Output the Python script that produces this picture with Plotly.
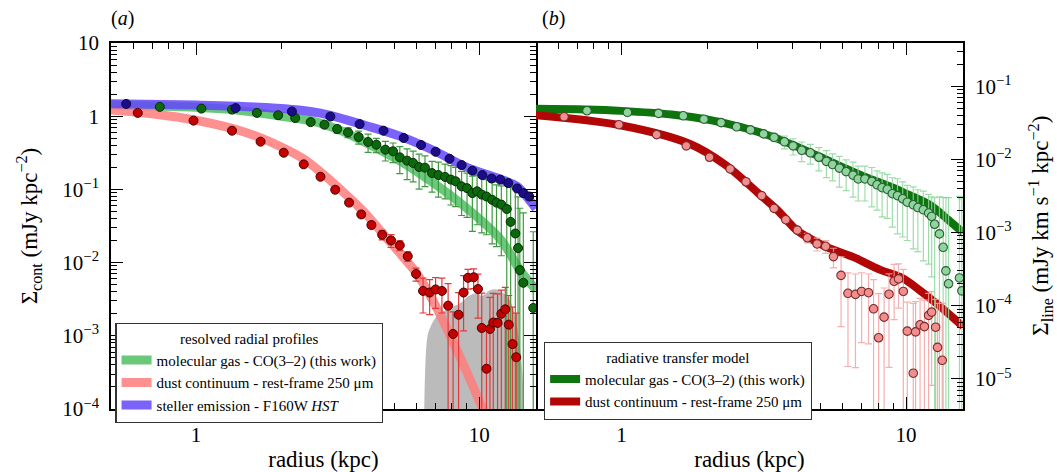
import plotly.graph_objects as go

SERIF = "Liberation Serif"

# ---------------- panel (a): resolved radial profiles ----------------
co_r = [0.745, 1.045, 1.34, 1.64, 1.95, 2.24, 2.54, 2.84, 3.15, 3.44, 3.75, 4.05, 4.33, 4.66, 4.96, 5.24,
        5.56, 5.84, 6.13, 6.43, 6.81, 7.17, 7.57, 7.94, 8.25, 8.66, 9.05, 9.45, 9.82, 10.2, 10.6, 11.1,
        11.5, 11.96, 12.5, 12.9, 13.4, 13.7, 13.9, 14.3, 15.5]
co_v = [1.34, 1.27, 1.23, 1.11, 1.03, 0.944, 0.83, 0.766, 0.668, 0.601, 0.52, 0.445, 0.408, 0.349, 0.331,
        0.274, 0.247, 0.23, 0.202, 0.198, 0.167, 0.157, 0.148, 0.136, 0.129, 0.11, 0.104, 0.089, 0.094,
        0.085, 0.080, 0.072, 0.066, 0.062, 0.054, 0.036, 0.025, 0.0158, 0.0079, 0.0053, 0.0024]
co_relerr = [0.03, 0.03, 0.03, 0.04, 0.05, 0.06, 0.08, 0.1, 0.12, 0.15, 0.2, 0.28, 0.22, 0.3, 0.3, 0.4,
             0.45, 0.45, 0.5, 0.45, 0.45, 0.5, 0.5, 0.55, 0.55, 0.6, 0.6, 0.7, 0.65, 0.7, 0.7, 0.75,
             0.75, 0.8, 1.4, 2.0, 3.0, 4.0, 6.0, 8.0, 10.0]

dust_r = [0.623, 0.98, 1.34, 1.69, 2.04, 2.4, 2.75, 3.1, 3.47, 3.83, 4.16, 4.54, 4.88, 5.24, 5.59, 5.98,
          6.33, 6.68, 7.01, 7.38, 7.76, 8.08, 8.45, 8.8, 9.12, 9.55, 9.89, 10.2, 10.6, 10.9, 11.2, 11.6,
          11.96, 12.35, 12.7, 13.1, 13.5]
dust_v = [1.11, 0.87, 0.634, 0.449, 0.317, 0.22, 0.149, 0.099, 0.066, 0.0455, 0.0326, 0.024, 0.0201,
          0.0172, 0.0122, 0.007, 0.0041, 0.0039, 0.0043, 0.0041, 0.00258, 0.00106, 0.00194, 0.0039,
          0.0062, 0.0063, 0.00436, 0.00128, 0.000355, 0.00124, 0.00152, 0.0015, 0.002, 0.0023, 0.00142,
          0.00077, 0.00051]
dust_relerr = [0.02, 0.02, 0.02, 0.02, 0.03, 0.03, 0.04, 0.05, 0.06, 0.08, 0.1, 0.15, 0.2, 0.15, 0.15, 0.2,
               0.5, 0.5, 0.45, 0.5, 1.0, 1.0, 1.0, 0.7, 0.3, 0.3, 0.6, 2.0, 2.5, 1.7, 1.5, 1.5,
               1.1, 1.0, 1.5, 2.2, 3.0]

star_r = [0.567, 1.38, 2.18, 2.98, 3.78, 4.59, 5.41, 6.23, 7.01, 7.85, 8.66, 9.45, 10.25, 11.05, 11.86,
          12.65, 13.6, 14.3, 15.0]
star_v = [1.47, 1.29, 1.16, 0.99, 0.78, 0.634, 0.504, 0.404, 0.327, 0.262, 0.215, 0.18, 0.157, 0.141,
          0.136, 0.122, 0.103, 0.089, 0.080]

co_fit_r = [0.5, 1.0, 1.34, 2.0, 2.6, 3.2, 4.0, 5.3, 6.9, 9.0, 11.9, 13.9, 15.0, 15.85]
co_fit_v = [1.42, 1.32, 1.23, 1.0, 0.85, 0.65, 0.43, 0.24, 0.122, 0.056, 0.0206, 0.0079, 0.0055, 0.0042]

dust_fit_r = [0.5, 0.7, 1.0, 1.5, 2.0, 2.4, 3.0, 3.5, 4.0, 4.6, 5.3, 6.0, 6.3, 7.0, 7.8, 9.0, 10.3, 11.0]
dust_fit_v = [1.22, 1.08, 0.88, 0.6, 0.38, 0.26, 0.13, 0.075, 0.045, 0.024, 0.0128, 0.0072, 0.0054,
              0.0026, 0.0011, 0.00033, 0.0001, 0.00006]

star_fit_r = [0.5, 1.0, 1.38, 2.18, 2.75, 4.0, 5.27, 6.9, 9.04, 11.86, 13.6, 15.0, 15.85]
star_fit_v = [1.48, 1.42, 1.37, 1.24, 1.10, 0.74, 0.53, 0.34, 0.20, 0.138, 0.11, 0.072, 0.055]

noise_r = [6.36, 6.54, 6.71, 7.19, 7.9, 8.58, 9.17, 9.8, 10.2, 10.9, 11.5, 12.3, 13.0, 13.6, 14.2, 14.7]
noise_v = [1e-6, 9e-4, 0.0013, 0.002, 0.0024, 0.0028, 0.0035, 0.0038, 0.0035, 0.0042, 0.0043, 0.0037,
           0.0027, 0.0013, 3e-4, 1e-6]

# ---------------- panel (b): radiative transfer model ----------------
rt_co_r = [0.757, 1.05, 1.35, 1.65, 1.95, 2.24, 2.54, 2.84, 3.16, 3.44, 3.74, 4.01, 4.3, 4.61, 4.94, 5.25,
           5.52, 5.83, 6.16, 6.51, 6.79, 7.17, 7.58, 7.91, 8.24, 8.59, 8.95, 9.33, 9.73, 10.1, 10.6, 11.0,
           11.5, 12.0, 12.3, 12.6, 13.1, 13.5, 13.8, 14.1, 15.4, 15.7]
rt_co_v = [0.0462, 0.0438, 0.0425, 0.0394, 0.0354, 0.0318, 0.0279, 0.0253, 0.0223, 0.020, 0.0174, 0.0153,
           0.0133, 0.0123, 0.0107, 0.0094, 0.0085, 0.0076, 0.0068, 0.0061, 0.0054, 0.0054, 0.005, 0.0045,
           0.0041, 0.0039, 0.0034, 0.0032, 0.0029, 0.0026, 0.0024, 0.0022, 0.00205, 0.00185, 0.00166,
           0.0013, 0.00096, 0.00063, 0.0003, 0.0002, 0.00024, 0.00016]
rt_co_relerr = [0.02, 0.02, 0.02, 0.02, 0.03, 0.03, 0.04, 0.05, 0.08, 0.12, 0.2, 0.25, 0.3, 0.3, 0.35, 0.4,
                0.4, 0.45, 0.45, 0.5, 0.5, 0.5, 0.55, 0.55, 0.6, 0.6, 0.65, 0.7, 0.7, 0.7, 0.75, 0.75,
                0.8, 0.8, 0.85, 1.3, 2.2, 3.8, 9.0, 14.0, 12.0, 17.0]

rt_dust_r = [0.629, 0.98, 1.33, 1.69, 2.04, 2.41, 2.74, 3.11, 3.44, 3.78, 4.15, 4.5, 4.87, 5.22, 5.56, 5.91,
             6.25, 6.64, 6.98, 7.38, 7.69, 8.01, 8.37, 8.71, 9.08, 9.41, 9.78, 10.1, 10.6, 10.8, 11.2,
             11.6, 12.0, 12.3, 12.7, 12.9, 13.4]
rt_dust_v = [0.0382, 0.0298, 0.0218, 0.0153, 0.0107, 0.0074, 0.00495, 0.0032, 0.00214, 0.0015, 0.00108,
             0.00085, 0.0007, 0.00065, 0.00047, 0.00026, 0.000148, 0.000143, 0.000157, 0.000151, 9.1e-5,
             3.66e-5, 7e-5, 0.000144, 0.000216, 0.000233, 0.000157, 4.5e-5, 1.2e-5, 4.4e-5, 5.5e-5,
             5.2e-5, 7.4e-5, 8.2e-5, 5.1e-5, 2.7e-5, 1.8e-5]
rt_dust_relerr = [0.02, 0.02, 0.02, 0.02, 0.03, 0.03, 0.03, 0.04, 0.05, 0.07, 0.1, 0.15, 0.2, 0.2, 0.3, 0.8,
                  0.9, 0.9, 0.8, 0.8, 1.5, 3.0, 1.5, 0.9, 0.7, 0.6, 1.0, 1.5, 8.0, 1.6, 1.3,
                  1.3, 1.0, 0.9, 1.4, 3.0, 5.0]

rt_co_fit_r = [0.5, 0.75, 1.0, 1.5, 2.0, 2.5, 3.0, 3.5, 4.0, 5.0, 6.0, 7.0, 8.0, 9.0, 9.7, 11.0, 12.3, 14.1, 15.85]
rt_co_fit_v = [0.049, 0.048, 0.046, 0.041, 0.035, 0.029, 0.024, 0.0195, 0.0158, 0.0108, 0.0078, 0.006,
               0.0049, 0.0041, 0.0036, 0.0029, 0.0023, 0.00148, 0.001]

rt_dust_fit_r = [0.5, 1.0, 1.75, 2.31, 3.04, 3.5, 3.8, 4.12, 4.6, 5.28, 6.47, 8.12, 9.7, 11.1, 12.7, 14.5, 15.85]
rt_dust_fit_v = [0.040, 0.029, 0.0161, 0.0085, 0.0034, 0.0021, 0.0015, 0.00108, 0.00083, 0.00063,
                 0.00047, 0.00031, 0.00024, 0.000166, 0.00011, 7.1e-5, 5.2e-5]

# tick labels
left_tickvals = [1e-4, 1e-3, 1e-2, 1e-1, 1, 10]
left_ticktext = ["10<sup>−4</sup>", "10<sup>−3</sup>", "10<sup>−2</sup>", "10<sup>−1</sup>", "1", "10"]
right_tickvals = [1e-5, 1e-4, 1e-3, 1e-2, 1e-1]
right_ticktext = ["10<sup>−5</sup>", "10<sup>−4</sup>", "10<sup>−3</sup>", "10<sup>−2</sup>", "10<sup>−1</sup>"]
x_tickvals = [1, 10]
x_ticktext = ["1", "10"]


def abs_err(vals, rel):
    return [v * f for v, f in zip(vals, rel)]


def minor_vals(e0, e1):
    return [k * 10 ** e for e in range(e0, e1) for k in range(2, 10)]


fig = go.Figure()

# ---- panel (a) ----
fig.add_trace(go.Scatter(x=noise_r, y=noise_v, mode="lines", fill="toself", line_shape="spline",
                         fillcolor="rgba(170,170,170,0.8)", line=dict(width=0),
                         showlegend=False, hoverinfo="skip", xaxis="x", yaxis="y"))
fig.add_trace(go.Scatter(x=co_fit_r, y=co_fit_v, mode="lines", line_shape="spline",
                         line=dict(color="rgba(80,190,100,0.85)", width=9),
                         name="molecular gas - CO(3–2) (this work)", legend="legend",
                         xaxis="x", yaxis="y"))
fig.add_trace(go.Scatter(x=dust_fit_r, y=dust_fit_v, mode="lines", line_shape="spline",
                         line=dict(color="rgba(255,125,125,0.85)", width=9),
                         name="dust continuum - rest-frame 250 μm", legend="legend",
                         xaxis="x", yaxis="y"))
fig.add_trace(go.Scatter(x=star_fit_r, y=star_fit_v, mode="lines", line_shape="spline",
                         line=dict(color="rgba(100,70,250,0.85)", width=9),
                         name="steller emission - F160W <i>HST</i>", legend="legend",
                         xaxis="x", yaxis="y"))
fig.add_trace(go.Scatter(x=co_r, y=co_v, mode="markers",
                         error_y=dict(type="data", array=abs_err(co_v, co_relerr),
                                      color="#3f9a3f", thickness=1.2, width=3.5),
                         marker=dict(color="#0b680b", size=9, line=dict(color="#062e06", width=1)),
                         showlegend=False, xaxis="x", yaxis="y"))
fig.add_trace(go.Scatter(x=dust_r, y=dust_v, mode="markers",
                         error_y=dict(type="data", array=abs_err(dust_v, dust_relerr),
                                      color="#e03a3a", thickness=1.2, width=3.5),
                         marker=dict(color="#c40000", size=9, line=dict(color="#4a0000", width=1)),
                         showlegend=False, xaxis="x", yaxis="y"))
fig.add_trace(go.Scatter(x=star_r, y=star_v, mode="markers",
                         marker=dict(color="#1c0c8c", size=9, line=dict(color="#08083a", width=1)),
                         showlegend=False, xaxis="x", yaxis="y"))

# ---- panel (b) ----
fig.add_trace(go.Scatter(x=rt_co_fit_r, y=rt_co_fit_v, mode="lines", line_shape="spline",
                         line=dict(color="#0e740e", width=8),
                         name="molecular gas - CO(3–2) (this work)", legend="legend2",
                         xaxis="x2", yaxis="y2"))
fig.add_trace(go.Scatter(x=rt_dust_fit_r, y=rt_dust_fit_v, mode="lines", line_shape="spline",
                         line=dict(color="#b30606", width=8),
                         name="dust continuum - rest-frame 250 μm", legend="legend2",
                         xaxis="x2", yaxis="y2"))
fig.add_trace(go.Scatter(x=rt_co_r, y=rt_co_v, mode="markers",
                         error_y=dict(type="data", array=abs_err(rt_co_v, rt_co_relerr),
                                      color="rgba(140,215,155,0.85)", thickness=1.2, width=3.5),
                         marker=dict(color="#8ed69e", size=8.5, line=dict(color="#2c5e36", width=1.1)),
                         showlegend=False, xaxis="x2", yaxis="y2"))
fig.add_trace(go.Scatter(x=rt_dust_r, y=rt_dust_v, mode="markers",
                         error_y=dict(type="data", array=abs_err(rt_dust_v, rt_dust_relerr),
                                      color="rgba(245,160,160,0.85)", thickness=1.2, width=3.5),
                         marker=dict(color="#f28e8e", size=8.5, line=dict(color="#7a2c2c", width=1.1)),
                         showlegend=False, xaxis="x2", yaxis="y2"))

tick_font = dict(family=SERIF, size=21, color="black")
title_font = dict(family=SERIF, size=23, color="black")
split = 0.4988


def xaxis(domain, anchor):
    return dict(type="log", range=[-0.30, 1.20], domain=domain, anchor=anchor, automargin=False,
                showline=True, linecolor="black", linewidth=1.6, mirror="ticks",
                ticks="inside", ticklen=12, tickwidth=1.4, tickcolor="black",
                tickmode="array", tickvals=x_tickvals, ticktext=x_ticktext,
                minor=dict(ticks="inside", ticklen=6, tickwidth=1.2, tickcolor="black",
                           tickmode="array", tickvals=[0.6, 0.7, 0.8, 0.9] + minor_vals(0, 1) + [20]),
                showgrid=False, zeroline=False, tickfont=tick_font, ticklabelstandoff=6,
                title=dict(text="radius (kpc)", font=title_font, standoff=6))


fig.update_layout(
    width=1057, height=472,
    margin=dict(l=111, r=94, t=43, b=63, autoexpand=False),
    paper_bgcolor="white", plot_bgcolor="white",
    font=dict(family=SERIF, color="black"),
    xaxis=xaxis([0, split], "y"),
    xaxis2=xaxis([split, 1], "y2"),
    yaxis=dict(type="log", range=[-4, 1], domain=[0, 1], anchor="x", automargin=False,
               showline=True, linecolor="black", linewidth=1.6, mirror="ticks",
               ticks="inside", ticklen=12, tickwidth=1.4, tickcolor="black",
               tickmode="array", tickvals=left_tickvals, ticktext=left_ticktext,
               minor=dict(ticks="inside", ticklen=6, tickwidth=1.2, tickcolor="black",
                          tickmode="array", tickvals=minor_vals(-4, 1)),
               showgrid=False, zeroline=False, tickfont=tick_font, ticklabelstandoff=6),
    yaxis2=dict(type="log", range=[-5.41, -0.41], domain=[0, 1], anchor="x2", side="right",
                automargin=False,
                showline=True, linecolor="black", linewidth=1.6, mirror=False,
                ticks="inside", ticklen=12, tickwidth=1.4, tickcolor="black",
                tickmode="array", tickvals=right_tickvals, ticktext=right_ticktext,
                minor=dict(ticks="inside", ticklen=6, tickwidth=1.2, tickcolor="black",
                           tickmode="array", tickvals=minor_vals(-6, 0)),
                showgrid=False, zeroline=False, tickfont=tick_font, ticklabelstandoff=6),
    yaxis3=dict(type="log", range=[-4, 1], overlaying="y2", anchor="x2", side="left",
                automargin=False,
                showline=True, linecolor="black", linewidth=1.6,
                ticks="inside", ticklen=12, tickwidth=1.4, tickcolor="black",
                tickmode="array", tickvals=left_tickvals, showticklabels=False,
                minor=dict(ticks="inside", ticklen=6, tickwidth=1.2, tickcolor="black",
                           tickmode="array", tickvals=minor_vals(-4, 1)),
                showgrid=False, zeroline=False),
    legend=dict(x=0.005, y=0.235, xanchor="left", yanchor="top", bgcolor="white",
                bordercolor="#333333", borderwidth=1.3,
                font=dict(family=SERIF, size=15, color="black"),
                title=dict(text="resolved radial profiles", side="top center",
                           font=dict(family=SERIF, size=15, color="black")),
                tracegroupgap=0),
    legend2=dict(x=0.508, y=0.183, xanchor="left", yanchor="top", bgcolor="white",
                 bordercolor="#333333", borderwidth=1.3,
                 font=dict(family=SERIF, size=15, color="black"),
                 title=dict(text="radiative transfer model", side="top center",
                            font=dict(family=SERIF, size=15, color="black")),
                 tracegroupgap=0),
    annotations=[
        dict(text="(<i>a</i>)", x=0.014, y=1.068, xref="paper", yref="paper", showarrow=False,
             xanchor="center", yanchor="middle", font=dict(family=SERIF, size=20, color="black")),
        dict(text="(<i>b</i>)", x=0.519, y=1.068, xref="paper", yref="paper", showarrow=False,
             xanchor="center", yanchor="middle", font=dict(family=SERIF, size=20, color="black")),
        dict(text="Σ<sub>cont</sub> (mJy kpc<sup>−2</sup>)", x=-0.097, y=0.5, xref="paper",
             yref="paper", showarrow=False, textangle=-90, xanchor="center", yanchor="middle",
             font=title_font),
        dict(text="Σ<sub>line</sub> (mJy km s<sup>−1</sup> kpc<sup>−2</sup>)", x=1.09, y=0.5,
             xref="paper", yref="paper", showarrow=False, textangle=-90, xanchor="center",
             yanchor="middle", font=title_font),
    ],
)

fig.write_html("out.html", config={"displayModeBar": False},
               post_script="document.body.style.margin='0';")
